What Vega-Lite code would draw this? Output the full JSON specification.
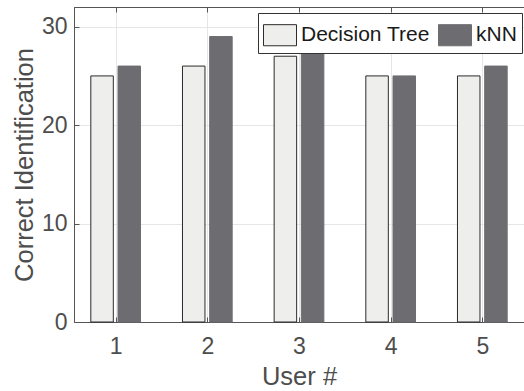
{
  "$schema": "https://vega.github.io/schema/vega-lite/v6.json",
  "width": 450,
  "height": 315,
  "autosize": {"type": "none"},
  "padding": {"left": 74, "top": 7, "right": 0, "bottom": 69},
  "background": "white",
  "data": {
    "values": [
      {"user": 1, "method": "Decision Tree", "value": 25},
      {"user": 2, "method": "Decision Tree", "value": 26},
      {"user": 3, "method": "Decision Tree", "value": 27},
      {"user": 4, "method": "Decision Tree", "value": 25},
      {"user": 5, "method": "Decision Tree", "value": 25},
      {"user": 1, "method": "kNN", "value": 26},
      {"user": 2, "method": "kNN", "value": 29},
      {"user": 3, "method": "kNN", "value": 28},
      {"user": 4, "method": "kNN", "value": 25},
      {"user": 5, "method": "kNN", "value": 26}
    ]
  },
  "layer": [
    {
      "transform": [{"filter": "datum.method === 'Decision Tree'"}],
      "mark": {"type": "bar", "width": 22.5, "xOffset": -13.6, "strokeWidth": 1},
      "encoding": {
        "x": {
          "field": "user", "type": "quantitative",
          "scale": {"domain": [0.6, 5.4], "nice": false, "zero": false},
          "axis": {
            "orient": "bottom", "values": [1, 2, 3, 4, 5], "title": "User #",
            "tickSize": -5, "labelPadding": 18.5, "titlePadding": 6
          }
        },
        "y": {
          "field": "value", "type": "quantitative",
          "scale": {"domain": [0, 32], "nice": false},
          "axis": {
            "values": [0, 10, 20, 30], "title": "Correct Identification",
            "tickSize": -5, "labelPadding": 12, "titlePadding": 4
          }
        },
        "fill": {
          "field": "method", "type": "nominal",
          "scale": {"domain": ["Decision Tree", "kNN"], "range": ["#eeefed", "#6d6d71"]},
          "legend": {"title": null}
        },
        "stroke": {
          "field": "method", "type": "nominal",
          "scale": {"domain": ["Decision Tree", "kNN"], "range": ["#2b2b2b", "#6d6d71"]},
          "legend": {"title": null}
        }
      }
    },
    {
      "transform": [{"filter": "datum.method === 'kNN'"}],
      "mark": {"type": "bar", "width": 22.5, "xOffset": 13.6, "strokeWidth": 1},
      "encoding": {
        "x": {
          "field": "user", "type": "quantitative",
          "scale": {"domain": [0.6, 5.4], "nice": false, "zero": false},
          "axis": {
            "orient": "top", "values": [1, 2, 3, 4, 5], "title": null,
            "labels": false, "grid": false, "tickSize": -5
          }
        },
        "y": {"field": "value", "type": "quantitative"},
        "fill": {"field": "method", "type": "nominal", "legend": {"title": null}},
        "stroke": {"field": "method", "type": "nominal", "legend": {"title": null}}
      }
    }
  ],
  "resolve": {"axis": {"x": "independent"}},
  "config": {
    "font": "Liberation Sans",
    "view": {"stroke": "#555555", "strokeWidth": 1},
    "axis": {
      "domainColor": "#555555",
      "tickColor": "#555555",
      "gridColor": "#e6e6e6",
      "grid": true,
      "labelFont": "Liberation Sans",
      "labelFontSize": 23,
      "labelColor": "#4d4d4d",
      "titleFont": "Liberation Sans",
      "titleFontSize": 25.5,
      "titleFontWeight": "normal",
      "titleColor": "#4d4d4d",
      "labelAngle": 0
    },
    "legend": {
      "orient": "none",
      "legendX": 184,
      "legendY": 6,
      "direction": "horizontal",
      "fillColor": "white",
      "strokeColor": "#333333",
      "padding": 5,
      "labelFont": "Liberation Sans",
      "labelFontSize": 21,
      "labelColor": "#1a1a1a",
      "labelOffset": 4,
      "columnPadding": 6,
      "symbolType": "M-1,-0.64H1V0.64H-1Z",
      "symbolSize": 1089,
      "symbolStrokeWidth": 1,
      "symbolOpacity": 1
    }
  }
}
